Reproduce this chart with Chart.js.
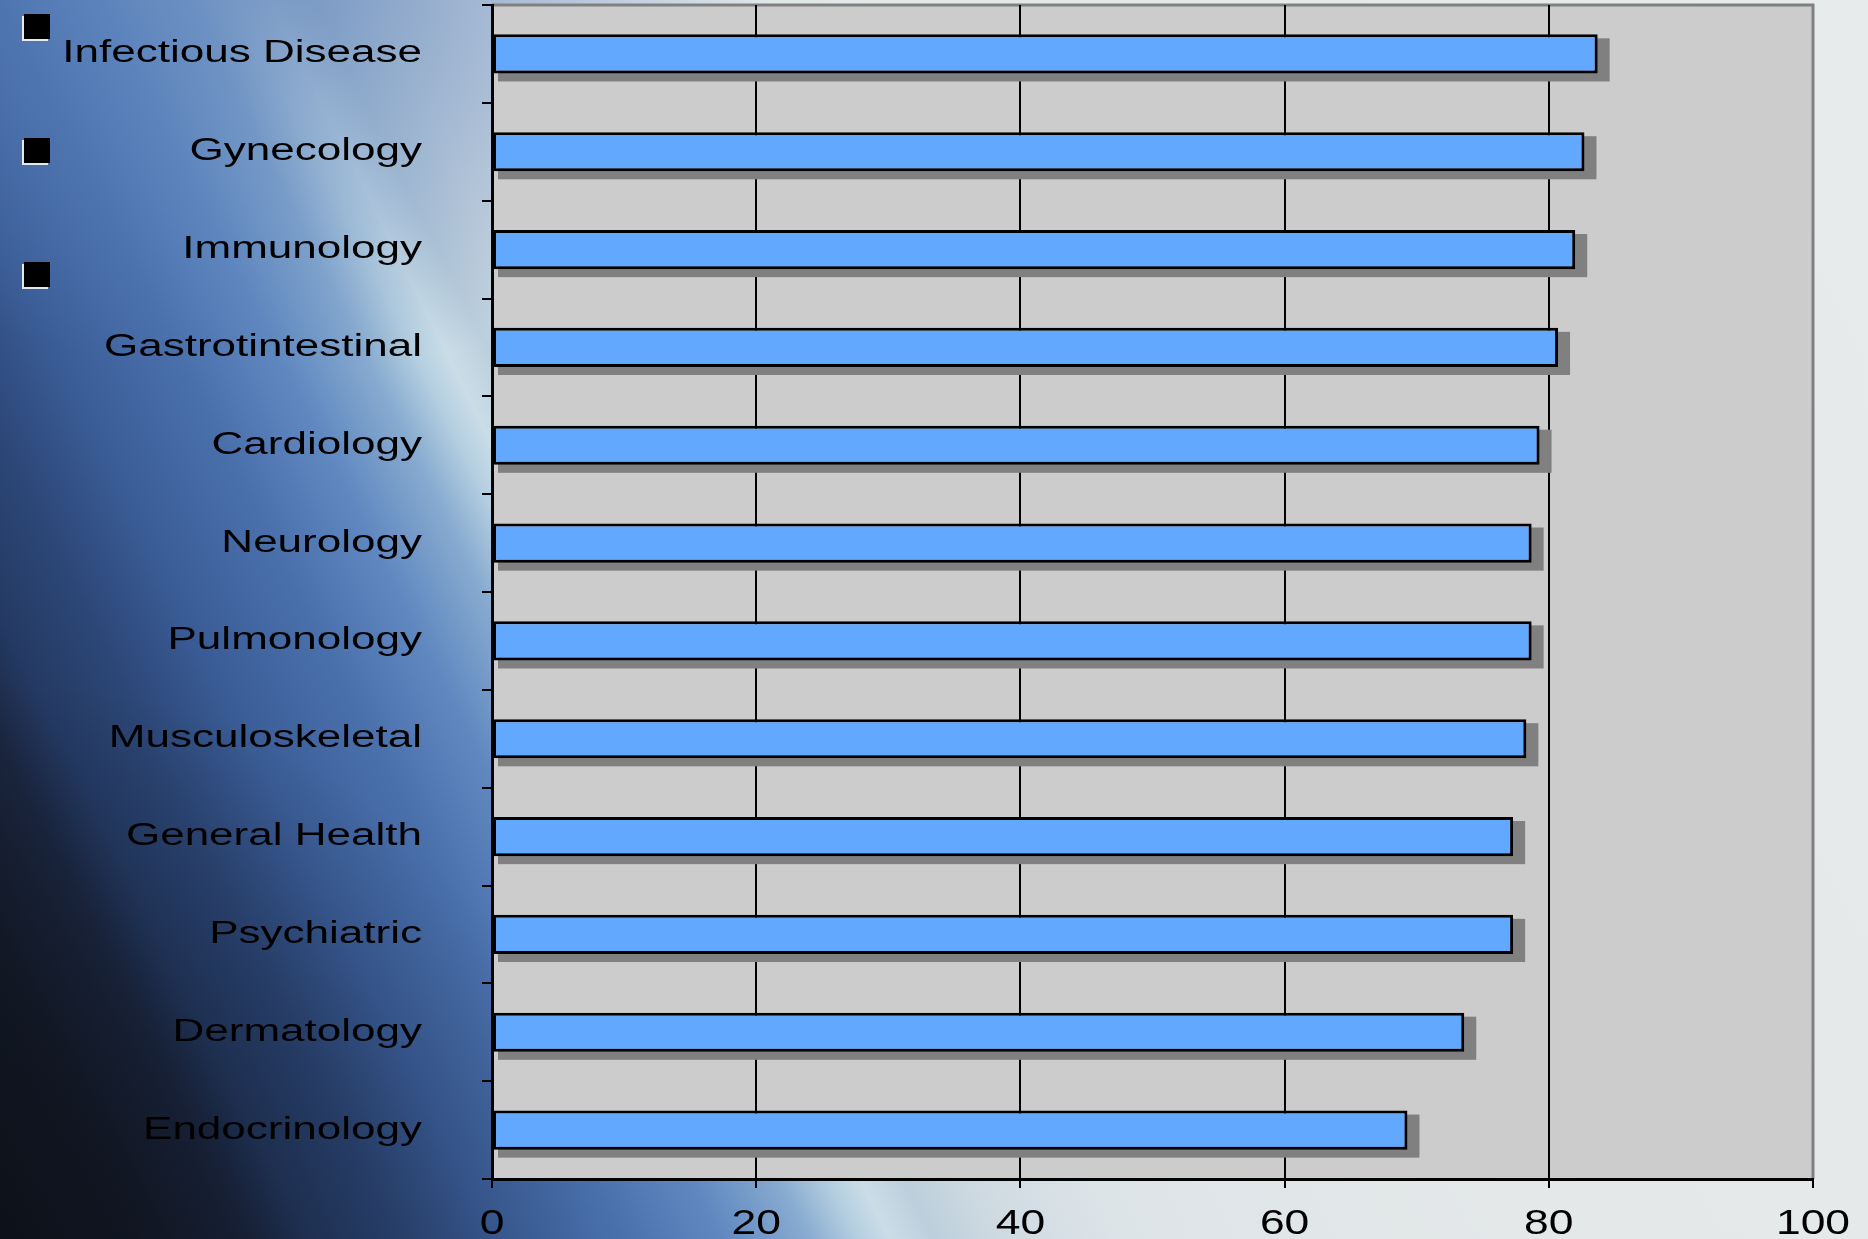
<!DOCTYPE html>
<html>
<head>
<meta charset="utf-8">
<script src="https://cdn.jsdelivr.net/npm/chart.js@4.4.1/dist/chart.umd.min.js"></script>
<style>
  html, body { margin: 0; padding: 0; }
  body {
    width: 1868px; height: 1239px; overflow: hidden; position: relative;
    background:
      radial-gradient(ellipse 520px 420px at 260px -40px, rgba(88,126,184,0.75), rgba(88,126,184,0) 100%),
      radial-gradient(ellipse 600px 560px at 0px 1239px, rgba(10,14,22,0.45), rgba(10,14,22,0) 100%),
      linear-gradient(63.4deg,
        #0f131b 0%, #141b29 6%, #1b2640 10%, #243a63 12.5%, #2c4676 16%,
        #3a5c96 20%, #4a70ac 25%, #6088c0 29%, #88abd0 32.5%, #b5cfe0 34.5%,
        #cadde7 35.8%, #bccfdc 37.5%, #cdd9e1 40%, #dde4e8 45%, #e4e8e9 60%, #e8ebeb 100%);
  }
  canvas { position: absolute; left: 0; top: 0; }
  .bullet { position: absolute; width: 26px; height: 25px; background: #000;
            box-shadow: -2px 2px 0 rgba(255,255,255,0.85); }
</style>
</head>
<body>
<div class="bullet" style="left:24px;top:14px"></div>
<div class="bullet" style="left:24px;top:138px"></div>
<div class="bullet" style="left:24px;top:262px"></div>
<canvas id="c" width="1868" height="1239"></canvas>
<script>
// ---- data ----
const categories = ['Infectious Disease', 'Gynecology', 'Immunology', 'Gastrotintestinal',
  'Cardiology', 'Neurology', 'Pulmonology', 'Musculoskeletal', 'General Health',
  'Psychiatric', 'Dermatology', 'Endocrinology'];
const values = [83.7, 82.7, 82.0, 80.7, 79.3, 78.7, 78.7, 78.3, 77.3, 77.3, 73.6, 69.3];
const xTickValues = [0, 20, 40, 60, 80, 100];

// ---- styling constants ----
const Y_STRETCH = 1.42;
const X_STRETCH = 1.27;

const canvas = document.getElementById('c');
const ctx = canvas.getContext('2d');
const nativeFill = CanvasRenderingContext2D.prototype.fillText;
ctx.fillText = function (text, x, y) {
  const sx = this.textAlign === 'right' ? Y_STRETCH : X_STRETCH;
  this.save();
  this.translate(x, y);
  this.scale(sx, 1);
  nativeFill.call(this, text, 0, 0);
  this.restore();
};

const plotBg = {
  id: 'plotBg',
  beforeDraw(chart) {
    const a = chart.chartArea, c = chart.ctx;
    c.save();
    c.fillStyle = '#cccccc';
    c.fillRect(a.left, a.top, a.right - a.left, a.bottom - a.top);
    c.strokeStyle = '#808080';
    c.lineWidth = 3;
    c.beginPath();
    c.moveTo(a.left, a.top);
    c.lineTo(a.right, a.top);
    c.lineTo(a.right, a.bottom);
    c.stroke();
    c.restore();
  }
};

const barShadow = {
  id: 'barShadow',
  beforeDatasetsDraw(chart) {
    const c = chart.ctx;
    c.save();
    c.fillStyle = '#808080';
    chart.getDatasetMeta(0).data.forEach(el => {
      const p = el.getProps(['x', 'y', 'base', 'height'], true);
      const top = p.y - p.height / 2 + 4;
      const bottom = p.y + p.height / 2 + 8;
      c.fillRect(p.base + 5, top, (p.x + 12) - (p.base + 5), bottom - top);
    });
    c.restore();
  }
};

new Chart(ctx, {
  type: 'bar',
  data: {
    labels: categories,
    datasets: [{
      data: values,
      backgroundColor: '#62a8ff',
      borderColor: '#000000',
      borderWidth: 3,
      borderSkipped: false,
      barPercentage: 0.4,
      categoryPercentage: 1.0
    }]
  },
  options: {
    indexAxis: 'y',
    responsive: false,
    animation: false,
    layout: { padding: { top: 5, right: 55, left: 0, bottom: 0 } },
    plugins: { legend: { display: false }, tooltip: { enabled: false } },
    scales: {
      x: {
        min: 0, max: 100,
        afterBuildTicks(scale) { scale.ticks = xTickValues.map(v => ({ value: v })); },
        afterFit(scale) {
          scale.height = 60;
          scale.paddingLeft = 0; scale.paddingRight = 0;
        },
        grid: {
          color: c => (c.tick && c.tick.value === 100) ? '#808080' : '#000000',
          tickColor: '#000000',
          lineWidth: 2,
          tickLength: 9,
          drawOnChartArea: true
        },
        border: { color: '#000000', width: 3 },
        ticks: {
          color: '#000000',
          padding: 15,
          font: { family: 'Liberation Sans, Arial, sans-serif', size: 35 }
        }
      },
      y: {
        afterFit(scale) {
          scale.width = 492;
          scale.paddingTop = 0; scale.paddingBottom = 0;
        },
        grid: {
          offset: true,
          drawOnChartArea: false,
          color: '#000000',
          lineWidth: 2,
          tickLength: 10
        },
        border: { color: '#000000', width: 3 },
        ticks: {
          color: '#000000',
          padding: 60,
          font: { family: 'Liberation Sans, Arial, sans-serif', size: 31 }
        }
      }
    }
  },
  plugins: [plotBg, barShadow]
});
</script>
</body>
</html>
